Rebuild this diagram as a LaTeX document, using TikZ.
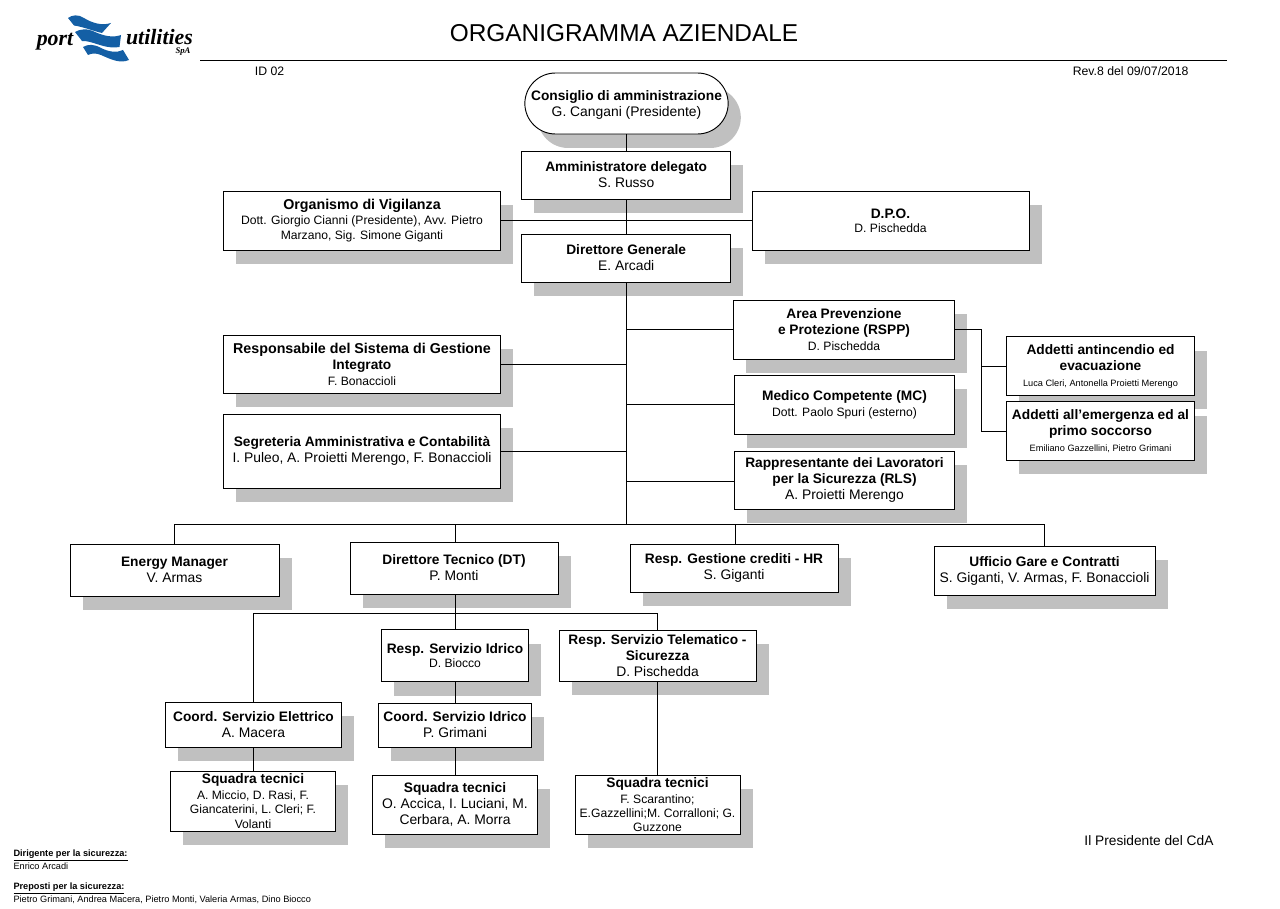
\documentclass[tikz,border=0pt]{standalone}
\usepackage{fontspec}
\setmainfont{Liberation Sans}
\newfontfamily\logofont{Liberation Serif}
\usetikzlibrary{shadows}
\definecolor{logoblue}{RGB}{20,95,165}
\definecolor{shadowgray}{RGB}{192,192,192}
\newcommand{\capo}[1]{{\fontsize{10.3}{12.4}\selectfont\bfseries #1}}
\newcommand{\capol}[1]{{\fontsize{10.7}{12.4}\selectfont\bfseries #1}}
\newcommand{\nome}[1]{{\fontsize{10.4}{12.4}\selectfont #1}}
\newcommand{\nomep}[1]{{\fontsize{9.1}{11}\selectfont #1}}
\newcommand{\nomet}[1]{{\fontsize{6.9}{9}\selectfont #1}}
\begin{document}
\begin{tikzpicture}[x=0.75pt, y=-0.75pt, thick]
	\tikzstyle{ufficio} = [rectangle, draw=black, line width=0.7pt, fill=white, align=center, inner sep=0pt, drop shadow={shadow xshift=9.5pt, shadow yshift=-10.5pt, fill=shadowgray, opacity=1}]
	\tikzstyle{consiglio} = [ufficio, rounded corners=23pt]
	\tikzstyle{linea} = [line width=0.7pt, black]
	\tikzstyle{scritta} = [inner sep=0pt, font=\fontsize{9.2}{11}\selectfont]
	\tikzstyle{piede} = [inner sep=0pt, anchor=west, font=\fontsize{6.9}{8}\selectfont]

	\useasboundingbox (0,0) rectangle (1280,909);

	% logo
	\fill[logoblue] (68,18) .. controls (72,15) and (78,14) .. (84,18) .. controls (92,23) and (102,26) .. (111,23) -- (102,33) .. controls (93,31) and (84,27) .. (74,25.5) -- cycle;
	\fill[logoblue] (75,32) .. controls (80,29) and (87,28) .. (95,32) .. controls (104,36) and (113,38) .. (121,35) -- (119.5,47) .. controls (108,49) and (98,44) .. (90,42) .. controls (87,41) and (84,41) .. (82,41) -- cycle;
	\fill[logoblue] (83,47) .. controls (88,44) and (94,44) .. (101,48) .. controls (109,52) and (117,53) .. (123,50) -- (129,60) .. controls (120,64) and (110,59) .. (101,55) .. controls (96,53) and (92,53) .. (88,55) -- cycle;
	\node[inner sep=0pt, font=\logofont\fontsize{16.4}{16}\selectfont\bfseries\itshape] (port) at (55,42) {port};
	\node[inner sep=0pt, font=\logofont\fontsize{16.4}{16}\selectfont\bfseries\itshape] (utilities) at (159.5,37) {utilities};
	\node[inner sep=0pt, font=\logofont\fontsize{6.5}{6}\selectfont\bfseries\itshape] (spa) at (183,52) {SpA};

	% testata
	\node[inner sep=0pt, font=\fontsize{18.3}{20}\selectfont] (titolo) at (624,33) {ORGANIGRAMMA AZIENDALE};
	\coordinate (regolaA) at (200,60.5);
	\coordinate (regolaB) at (1227,60.5);
	\draw[linea] (regolaA) -- (regolaB);
	\node[scritta] (id) at (269.5,71) {ID 02};
	\node[scritta, anchor=east] (rev) at (1189,71) {Rev.8 del 09/07/2018};

	% caselle
	\node[consiglio, minimum width=152.5pt, minimum height=45.75pt] (cda) at (626.5,103.5) {\rule{0pt}{10.4pt}\capo{Consiglio di amministrazione}\\\nome{G. Cangani (Presidente)}};
	\foreach \nodo/\cx/\cy/\bw/\bh/\testo in {
		ad/626.2/175/209/48/{\capo{Amministratore delegato}\\\nome{S. Russo}},
		odv/362/220.5/277/59/{\capol{Organismo di Vigilanza}\\[-0.8pt]\nomep{Dott. Giorgio Cianni (Presidente), Avv. Pietro}\\[-0.8pt]\nomep{Marzano, Sig. Simone Giganti}},
		dpo/890.5/220.5/277/59/{\capo{D.P.O.}\\[-1.5pt]\nomep{D. Pischedda}},
		dg/626.2/258/209/48/{\capo{Direttore Generale}\\\nome{E. Arcadi}},
		rspp/844/329.5/221/59/{\capo{Area Prevenzione}\\\capo{e Protezione (RSPP)}\\\nomep{D. Pischedda}},
		sgi/362/364/277/58/{\capol{Responsabile del Sistema di Gestione}\\\capo{Integrato}\\\nomep{F. Bonaccioli}},
		mc/844.5/404.5/220/59/{\capo{Medico Competente (MC)}\\\nomep{Dott. Paolo Spuri (esterno)}},
		segr/362/451/277/74/{\capo{Segreteria Amministrativa e Contabilità}\\\nome{I. Puleo, A. Proietti Merengo, F. Bonaccioli}},
		rls/844.5/480/220/58/{\capo{Rappresentante dei Lavoratori}\\\capo{per la Sicurezza (RLS)}\\\nome{A. Proietti Merengo}},
		ant/1100.5/366/187.6/58.6/{\capo{Addetti antincendio ed}\\\capo{evacuazione}\\\nomet{Luca Cleri, Antonella Proietti Merengo}},
		eme/1100.5/431/187.6/58.6/{\capo{Addetti all’emergenza ed al}\\\capo{primo soccorso}\\\nomet{Emiliano Gazzellini, Pietro Grimani}},
		em/174.5/570/209/52/{\capo{Energy Manager}\\\nome{V. Armas}},
		dt/454/568/208/52/{\capo{Direttore Tecnico (DT)}\\\nome{P. Monti}},
		hr/734/568/208/48/{\capo{Resp. Gestione crediti - HR}\\\nome{S. Giganti}},
		gare/1044.5/570.5/221/49/{\capo{Ufficio Gare e Contratti}\\\nome{S. Giganti, V. Armas, F. Bonaccioli}},
		idr/455/655.5/146.6/52/{\capo{Resp. Servizio Idrico}\\[-1.2pt]\nomep{D. Biocco}},
		tel/657.5/655.5/197/51/{\capo{Resp. Servizio Telematico -}\\\capo{Sicurezza}\\\nome{D. Pischedda}},
		cel/253.5/724.5/176/45/{\capo{Coord. Servizio Elettrico}\\\nome{A. Macera}},
		cid/455/725/153.6/44/{\capo{Coord. Servizio Idrico}\\\nome{P. Grimani}},
		sqel/253/801/165/60/{\capo{Squadra tecnici}\\\nomep{A. Miccio, D. Rasi, F.}\\[-1.2pt]\nomep{Giancaterini, L. Cleri; F.}\\[-1.2pt]\nomep{Volanti}},
		sqid/455/804.5/165/59/{\capo{Squadra tecnici}\\\nome{O. Accica, I. Luciani, M.}\\\nome{Cerbara, A. Morra}},
		sqtel/657.5/804.5/165/59/{\capo{Squadra tecnici}\\\nomep{F. Scarantino;}\\[-1.2pt]\nomep{E.Gazzellini;M. Corralloni; G.}\\[-1.2pt]\nomep{Guzzone}}}
		\node[ufficio, minimum width=\bw*0.75pt, minimum height=\bh*0.75pt] (\nodo) at (\cx,\cy) {\testo};

	% collegamenti
	\coordinate (snodoV) at (626.8,199);
	\coordinate (snodoG) at (626.8,524);
	\coordinate (snodoT) at (455,613);
	\coordinate (snodoS) at (981,329);
	\draw[linea] (cda.south -| snodoV) -- (ad.north -| snodoV);
	\draw[linea] (ad.south -| snodoV) -- (dg.north -| snodoV);
	\draw[linea] (odv.east) -- (dpo.west);
	\draw[linea] (dg.south -| snodoG) -- (snodoG);
	\foreach \to/\y in {rspp/329, mc/404, rls/481}
		\draw[linea] (626.8,\y) -- (\to.west |- 0,\y);
	\foreach \to/\y in {sgi/364, segr/451}
		\draw[linea] (626.8,\y) -- (\to.east |- 0,\y);
	\draw[linea] (em.north) |- (gare.north |- snodoG) -- (gare.north);
	\foreach \to/\x in {dt/455, hr/735}
		\draw[linea] (\to.north -| \x,0) -- (\x,524);
	\draw[linea] (dt.south -| snodoT) -- (idr.north);
	\draw[linea] (cel.north) |- (tel.north |- snodoT) -- (tel.north);
	\draw[linea] (idr) -- (cid);
	\draw[linea] (cid) -- (sqid);
	\draw[linea] (cel.south) -- (sqel.north -| cel.south);
	\draw[linea] (tel) -- (sqtel);
	\draw[linea] (rspp.east |- snodoS) -- (snodoS) |- (ant.west);
	\draw[linea] (snodoS) |- (eme.west);

	% firma e note
	\node[scritta, anchor=east, font=\fontsize{10.3}{12}\selectfont] (firma) at (1214,841) {Il Presidente del CdA};
	\node[piede] (dirigente) at (13,855) {\textbf{\underline{Dirigente per la sicurezza:}}};
	\node[piede] (arcadi) at (13,866.5) {Enrico Arcadi};
	\node[piede] (preposti) at (13,888.5) {\textbf{\underline{Preposti per la sicurezza:}}};
	\node[piede] (elenco) at (13,899.5) {Pietro Grimani, Andrea Macera, Pietro Monti, Valeria Armas, Dino Biocco};
\end{tikzpicture}
\end{document}
